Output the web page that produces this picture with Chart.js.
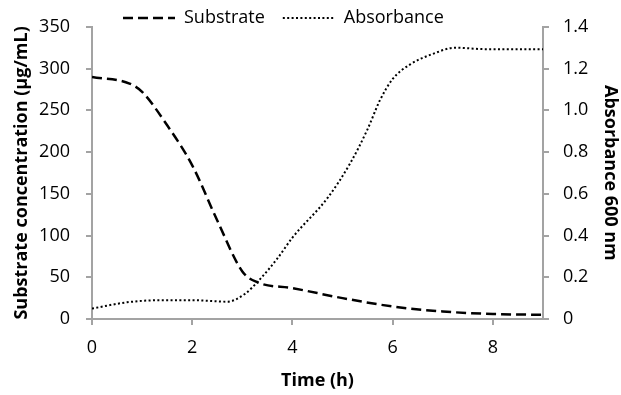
<!DOCTYPE html>
<html>
<head>
<meta charset="utf-8">
<script src="https://cdn.jsdelivr.net/npm/chart.js@4"></script>
<style>
  html, body { margin: 0; padding: 0; background: #fff; }
  #wrap { width: 621px; height: 395px; }
</style>
</head>
<body>
<div id="wrap"><canvas id="growthChart"></canvas></div>
<script>
  // Substrate concentration (ug/mL) vs time (h)
  const subTime   = [0, 0.75, 1, 1.5, 2, 2.5, 3, 3.3, 4, 5, 6, 7, 8, 9];
  const subValues = [290, 282, 272, 232, 184, 118, 57, 44, 37, 25, 15, 9, 6, 5];

  // Absorbance at 600 nm vs time (h)
  const absTime   = [0, 0.7, 1.35, 2, 2.7, 3.05, 3.35, 3.7, 4, 4.7, 5.15, 5.5, 5.75, 6, 6.35, 6.8, 7.25, 7.85, 9];
  const absValues = [0.05, 0.08, 0.09, 0.09, 0.083, 0.12, 0.19, 0.29, 0.39, 0.58, 0.745, 0.91, 1.05, 1.15, 1.22, 1.27, 1.30, 1.293, 1.293];

  const seriesNames = ["Substrate", "Absorbance"];

  const FONT = "'Open Sans', sans-serif";
  const AXIS_GRAY = "#a3a3a3";

  function toPoints(xs, ys) {
    return xs.map((x, i) => ({ x: x, y: ys[i] }));
  }

  // legend sits above the plot and takes no room from it
  const legendShift = {
    id: 'legendShift',
    afterLayout(chart) {
      const lg = chart.legend;
      const pad = lg.options.labels.padding;
      const contentW = lg.lineWidths[0] - pad;
      const start = (lg.left + lg.right - contentW) / 2;
      const dx = 123 - start;
      lg.left += dx; lg.right += dx;
      lg.top = -9;
      lg.bottom = 36;
      lg.height = lg.bottom - lg.top;
    }
  };

  new Chart(document.getElementById('growthChart'), {
    type: 'line',
    data: {
      datasets: [{
        label: seriesNames[0],
        data: toPoints(subTime, subValues),
        yAxisID: 'ySub',
        borderColor: '#000',
        backgroundColor: '#000',
        borderWidth: 2.5,
        borderDash: [10, 5],
        pointRadius: 0,
        cubicInterpolationMode: 'monotone'
      }, {
        label: seriesNames[1],
        data: toPoints(absTime, absValues),
        yAxisID: 'yAbs',
        borderColor: '#000',
        backgroundColor: '#000',
        borderWidth: 2,
        borderDash: [2, 2.4],
        pointRadius: 0,
        cubicInterpolationMode: 'monotone'
      }]
    },
    options: {
      responsive: true,
      maintainAspectRatio: false,
      animation: false,
      layout: { padding: { top: 26, left: 0, right: 0, bottom: 0 } },
      plugins: {
        legend: {
          position: 'top',
          maxHeight: 0.01,
          labels: {
            usePointStyle: true,
            pointStyle: 'line',
            pointStyleWidth: 52,
            padding: 18,
            color: '#000',
            font: { family: FONT, size: 18 },
            generateLabels(chart) {
              const items = Chart.defaults.plugins.legend.labels.generateLabels(chart);
              items.forEach(item => {
                const ds = chart.data.datasets[item.datasetIndex];
                item.lineDash = ds.borderDash;
                item.lineWidth = ds.borderWidth;
                item.strokeStyle = ds.borderColor;
                item.pointStyle = 'line';
              });
              return items;
            }
          }
        },
        tooltip: { enabled: false }
      },
      scales: {
        x: {
          type: 'linear',
          min: 0, max: 9,
          border: { color: AXIS_GRAY, width: 2 },
          grid: { drawOnChartArea: false, color: AXIS_GRAY, tickLength: 6, lineWidth: 2 },
          ticks: { stepSize: 2, includeBounds: false, padding: 12, color: '#000', font: { family: FONT, size: 18 } },
          title: { display: true, text: 'Time (h)', color: '#000', padding: { top: 0, bottom: 3 }, font: { family: FONT, size: 18, weight: 'bold' } },
          afterFit(scale) { scale.height = 76; }
        },
        ySub: {
          position: 'left',
          min: 0, max: 350,
          border: { color: AXIS_GRAY, width: 2 },
          grid: { drawOnChartArea: false, color: AXIS_GRAY, tickLength: 6, lineWidth: 2 },
          ticks: { stepSize: 50, padding: 16, color: '#000', font: { family: FONT, size: 18 } },
          title: { display: true, text: 'Substrate concentration (μg/mL)', color: '#000', padding: { top: 11, bottom: 0 }, font: { family: FONT, size: 18, weight: 'bold' } },
          afterFit(scale) { scale.width = 92; }
        },
        yAbs: {
          position: 'right',
          min: 0, max: 1.4,
          border: { color: AXIS_GRAY, width: 2 },
          grid: { drawOnChartArea: false, color: AXIS_GRAY, tickLength: 6, lineWidth: 2 },
          ticks: { stepSize: 0.2, padding: 14, color: '#000', font: { family: FONT, size: 18 } },
          title: { display: true, text: 'Absorbance 600 nm', color: '#000', padding: { top: 0, bottom: 0 }, font: { family: FONT, size: 18, weight: 'bold' } },
          afterFit(scale) { scale.width = 78; }
        }
      }
    },
    plugins: [legendShift]
  });
</script>
</body>
</html>
